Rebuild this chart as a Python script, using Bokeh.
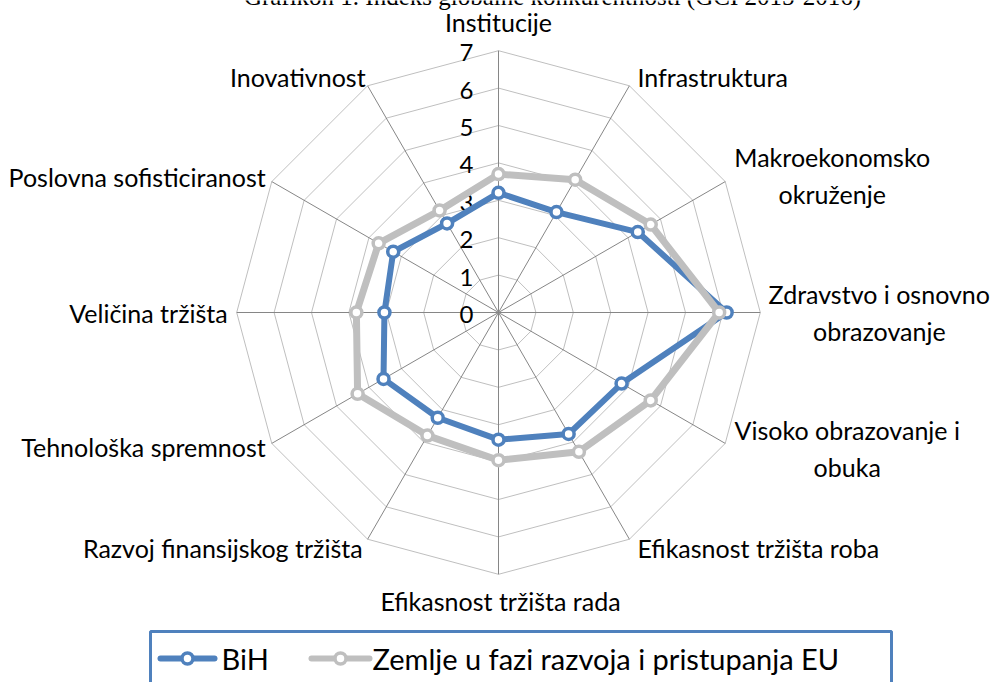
import math
from bokeh.plotting import figure
from bokeh.models import Range1d
from bokeh.core.properties import value
from bokeh.embed import file_html
from bokeh.resources import INLINE

# ---- data ----
title_text = "Grafikon 1. Indeks globalne konkurentnosti (GCI 2015-2016)"
categories = ["Institucije", "Infrastruktura", "Makroekonomsko\nokruženje",
              "Zdravstvo i osnovno\nobrazovanje", "Visoko obrazovanje i\nobuka",
              "Efikasnost tržišta roba", "Efikasnost tržišta rada",
              "Razvoj finansijskog tržišta", "Tehnološka spremnost",
              "Veličina tržišta", "Poslovna sofisticiranost", "Inovativnost"]
bih = [3.2, 3.1, 4.3, 6.1, 3.8, 3.75, 3.4, 3.25, 3.55, 3.05, 3.25, 2.75]
eu = [3.7, 4.1, 4.7, 5.9, 4.7, 4.3, 3.95, 3.8, 4.35, 3.8, 3.7, 3.15]
ring_ticks = [0, 1, 2, 3, 4, 5, 6, 7]
series_names = ["BiH", "Zemlje u fazi razvoja i pristupanja EU"]

BLUE = "#4F81BD"
GRAY = "#BFBFBF"
FONT = "Lato"

S = 37.4          # pixels per unit
CX, CY = 498, 312  # centre of radar in page pixels
W, H = 991, 682

def dx(sx):
    return (sx - CX) / S

def dy(sy):
    return (CY - sy) / S

p = figure(width=W, height=H, output_backend="svg", toolbar_location=None,
           x_range=Range1d(dx(0), dx(W)), y_range=Range1d(dy(H), dy(0)),
           min_border=0)
p.axis.visible = False
p.grid.visible = False
p.outline_line_color = None
p.background_fill_color = "white"
p.border_fill_color = "white"

# title (mostly cut off at the top, as in the source)
p.text(x=[dx(552)], y=[dy(-4)], text=[title_text], text_align="center",
       text_baseline="middle", text_font=value("Liberation Serif"),
       text_font_size="25px", text_color="black")

n = len(categories)
angles = [math.radians(90 - 360.0 * i / n) for i in range(n)]
rmax = max(ring_ticks)

# rings
xs, ys = [], []
for r in ring_ticks[1:]:
    xs.append([r * math.cos(a) for a in angles] + [r * math.cos(angles[0])])
    ys.append([r * math.sin(a) for a in angles] + [r * math.sin(angles[0])])
p.multi_line(xs, ys, line_color="#BFBFBF", line_width=1)

# spokes
p.segment(x0=[0] * n, y0=[0] * n,
          x1=[rmax * math.cos(a) for a in angles],
          y1=[rmax * math.sin(a) for a in angles],
          line_color="#868686", line_width=1)

# tick labels
p.text(x=[-25 / S] * len(ring_ticks), y=[t - 2 / S for t in ring_ticks],
       text=[str(t) for t in ring_ticks], text_align="right", text_baseline="middle",
       text_font=value(FONT), text_font_size="24px", text_color="black")

# category labels: (align, dx px, dy px) relative to outer vertex
layout = [("center", 0, -29), ("left", 8, -9), ("center", 107, -6),
          ("center", 119, 0), ("center", 122, 5), ("left", 8, 9),
          ("center", 2, 27), ("right", -5, 9), ("right", -6, 4),
          ("right", -9, 0), ("right", -6, -5), ("right", -2, -9)]
for cat, a, (al, ox, oy) in zip(categories, angles, layout):
    p.text(x=[rmax * math.cos(a) + ox / S], y=[rmax * math.sin(a) - oy / S],
           text=[cat], text_align=al, text_baseline="middle",
           text_font=value(FONT), text_font_size="25px", text_color="black",
           text_line_height=1.22)

# series
def draw(vals, color, lw):
    x = [v * math.cos(a) for v, a in zip(vals, angles)]
    y = [v * math.sin(a) for v, a in zip(vals, angles)]
    p.line(x + [x[0]], y + [y[0]], line_color=color, line_width=lw, line_join="round")
    p.scatter(x, y, marker="circle", size=11, fill_color="white",
              line_color=color, line_width=3.5)

draw(bih, BLUE, 6)
draw(eu, GRAY, 7)

# legend box
p.quad(left=[dx(150)], right=[dx(891)], top=[dy(631)], bottom=[dy(700)],
       fill_color=None, line_color=BLUE, line_width=3)
for name, color, x0, x1, tx in [(series_names[0], BLUE, 160, 214, 221),
                                (series_names[1], GRAY, 311, 369, 372)]:
    ly = dy(658)
    p.line([dx(x0), dx(x1)], [ly, ly], line_color=color, line_width=6, line_cap="round")
    p.scatter([dx((x0 + x1) / 2)], [ly], marker="circle", size=11, fill_color="white",
              line_color=color, line_width=3.5)
    p.text(x=[dx(tx)], y=[ly], text=[name], text_align="left", text_baseline="middle",
           text_font=value(FONT), text_font_size="29px", text_color="black")

open("out.html", "w").write(file_html(p, INLINE))
